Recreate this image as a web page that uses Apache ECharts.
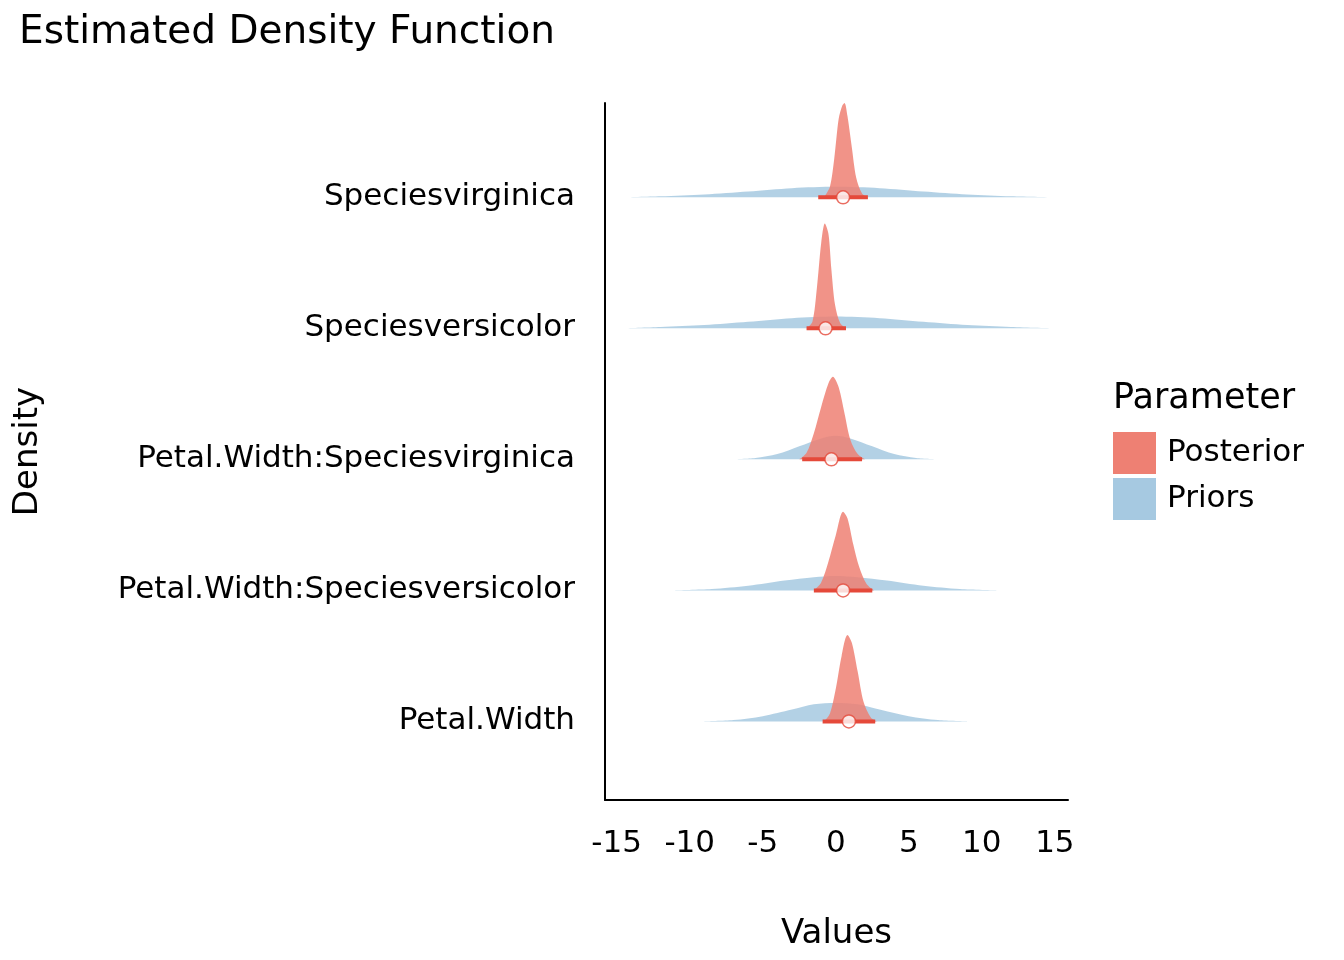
<!DOCTYPE html>
<html><head><meta charset="utf-8">
<script src="https://cdn.jsdelivr.net/npm/echarts@6/dist/echarts.min.js"></script>
<style>html,body{margin:0;padding:0;background:#fff}#c{width:1344px;height:960px}</style>
</head><body><div id="c"></div>
<script>
const categories = ['Petal.Width','Petal.Width:Speciesversicolor','Petal.Width:Speciesvirginica','Speciesversicolor','Speciesvirginica'];
const xTicks = [-15,-10,-5,0,5,10,15];
const posterior = [
  [[-0.8,0],[-0.4,0.06],[0,0.25],[0.4,0.5],[0.8,0.66],[1.1,0.6],[1.5,0.38],[1.9,0.15],[2.4,0.03],[2.8,0]],
  [[-1.5,0],[-1,0.06],[-0.5,0.22],[0,0.42],[0.5,0.6],[0.8,0.55],[1.2,0.35],[1.6,0.18],[2.1,0.05],[2.6,0]],
  [[-2.5,0],[-2,0.05],[-1.5,0.2],[-1,0.4],[-0.5,0.58],[-0.2,0.63],[0.2,0.55],[0.6,0.35],[1,0.15],[1.5,0.04],[2,0]],
  [[-2.0,0],[-1.6,0.05],[-1.3,0.3],[-1.0,0.65],[-0.75,0.8],[-0.5,0.72],[-0.3,0.45],[-0.05,0.18],[0.3,0.04],[0.7,0]],
  [[-0.8,0],[-0.4,0.08],[-0.1,0.3],[0.2,0.6],[0.45,0.7],[0.6,0.72],[0.8,0.62],[1.1,0.38],[1.4,0.15],[1.8,0.03],[2.2,0]]
];
const priors = [
  [[-9,0],[-7,0.01],[-5,0.04],[-3,0.09],[-1.5,0.13],[0,0.14],[1.5,0.13],[3,0.09],[5,0.04],[7,0.01],[9,0]],
  [[-11,0],[-8.5,0.01],[-6,0.035],[-3.5,0.075],[-1.5,0.1],[0,0.11],[1.5,0.1],[3.5,0.075],[6,0.035],[8.5,0.01],[11,0]],
  [[-7,0],[-5.5,0.01],[-4,0.04],[-2.5,0.1],[-1,0.16],[0,0.18],[1,0.16],[2.5,0.1],[4,0.04],[5.5,0.01],[7,0]],
  [[-14.5,0],[-12,0.01],[-9,0.025],[-6,0.05],[-3,0.078],[0,0.09],[3,0.078],[6,0.05],[9,0.025],[12,0.01],[15,0]],
  [[-14.5,0],[-12,0.008],[-9,0.022],[-6,0.045],[-3,0.07],[0,0.08],[3,0.07],[6,0.045],[9,0.022],[12,0.008],[15,0]]
];
const pointEst = [0.9, 0.5, -0.3, -0.7, 0.5];
const ciLow = [-0.9, -1.5, -2.3, -2.0, -1.2];
const ciHigh = [2.7, 2.5, 1.8, 0.7, 2.2];

const series = [];
function dens(name, arr, base, color) {
  series.push({name, type:'line', smooth:0.3, symbol:'none', silent:true,
    data: arr.map(p => [p[0], base + p[1]]),
    lineStyle:{width:0}, itemStyle:{color},
    areaStyle:{color, opacity:0.85, origin:base}});
}
priors.forEach((a,i)=>dens('Priors', a, i+1, '#A6C9E1'));
posterior.forEach((a,i)=>dens('Posterior', a, i+1, '#EE8073'));
categories.forEach((c,i)=>{
  series.push({type:'line', symbol:'none', silent:true, data:[[ciLow[i],i+1],[ciHigh[i],i+1]],
    lineStyle:{color:'#E5493A', width:4}, z:5});
});
series.push({type:'scatter', silent:true, data: pointEst.map((v,i)=>[v,i+1]), symbolSize:13,
  itemStyle:{color:'#fff', borderColor:'#E5493A', borderWidth:1.5}, z:6});

const F = 'DejaVu Sans';
const chart = echarts.init(document.getElementById('c'));
chart.setOption({
  animation:false,
  title:{text:'Estimated Density Function', left:14, top:8, textStyle:{fontFamily:F, fontWeight:'normal', fontSize:39, color:'#000'}},
  grid:{left:605, right:276, top:103, bottom:160},
  legend:{data:[{name:'Posterior'},{name:'Priors'}], orient:'vertical', left:1108, top:427, itemWidth:43, itemHeight:42, itemGap:4, icon:'rect',
    textStyle:{fontFamily:F, fontSize:31, color:'#000', padding:[0,0,0,6]}, selectedMode:false},
  graphic:[{type:'text', left:1113, top:381, style:{text:'Parameter', font:'35px "DejaVu Sans"', fill:'#000'}}],
  xAxis:{type:'value', min:-15.8, max:15.9, name:'Values', nameLocation:'middle', nameGap:117,
    nameTextStyle:{fontFamily:F, fontSize:34, color:'#000'},
    axisLine:{show:true, onZero:false, lineStyle:{color:'#000', width:2}}, axisTick:{show:false}, splitLine:{show:false},
    axisLabel:{customValues:xTicks, margin:28, fontFamily:F, fontSize:31, color:'#000'}},
  yAxis:{type:'value', min:0.4, max:5.72, name:'Density', nameLocation:'middle', nameGap:560, nameRotate:90,
    nameTextStyle:{fontFamily:F, fontSize:34, color:'#000'},
    axisLine:{show:true, onZero:false, lineStyle:{color:'#000', width:2}}, axisTick:{show:false}, splitLine:{show:false},
    axisLabel:{customValues:[1,2,3,4,5], margin:30, fontFamily:F, fontSize:31, color:'#000',
      formatter:v=>categories[Math.round(v)-1]||''}},
  series
});
</script></body></html>
